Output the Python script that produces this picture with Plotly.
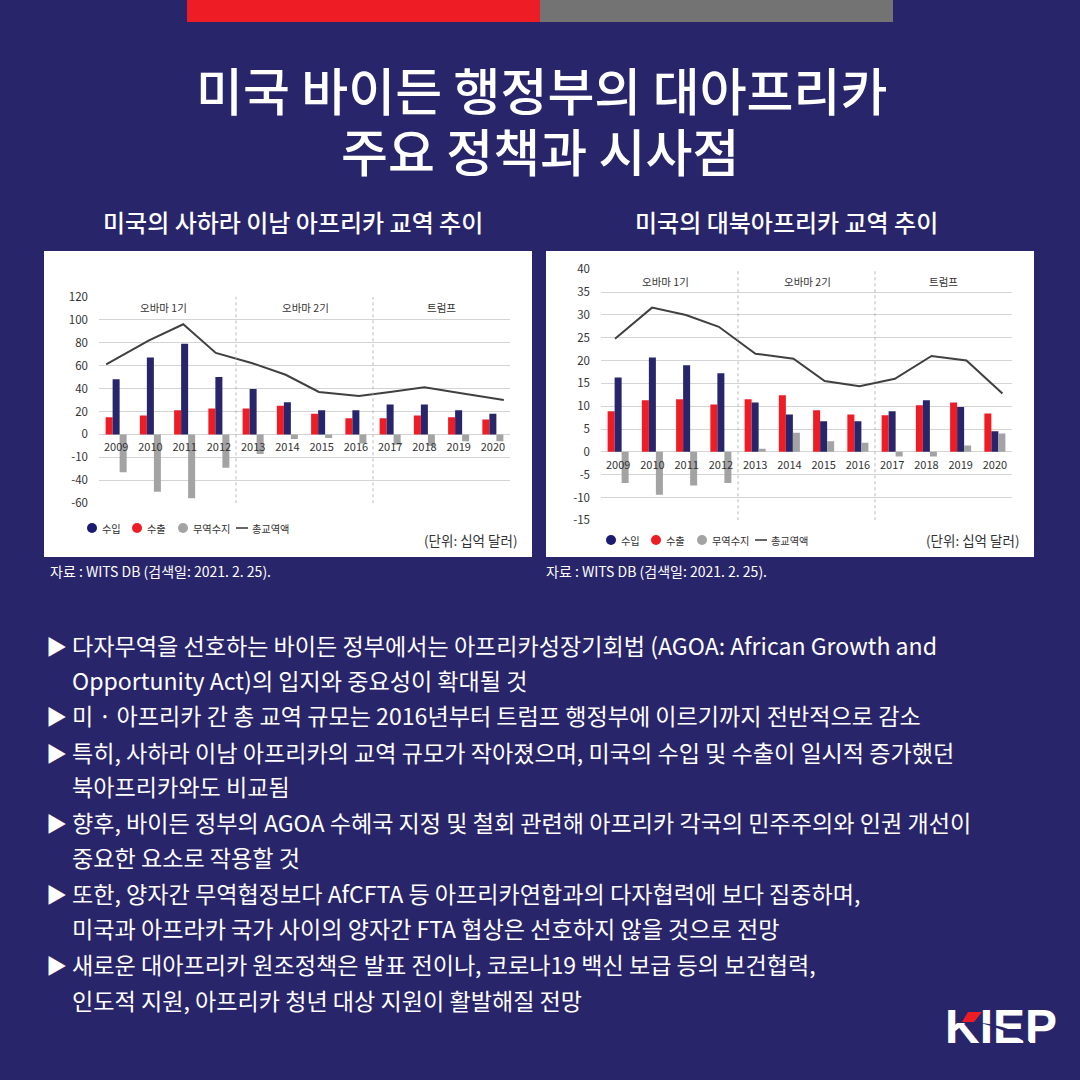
"""
KIEP card: US trade with Sub-Saharan and North Africa, 2009-2020.
"""

import plotly.graph_objects as go


# ============================================================
# 1. Data
# ============================================================

years = [2009, 2010, 2011, 2012, 2013, 2014, 2015, 2016, 2017, 2018, 2019, 2020]

# Sub-Saharan Africa
ssa_import = [48, 67, 79, 50, 39.5, 28, 21, 21, 26, 26, 21, 18]
ssa_export = [15, 16.5, 21, 22.5, 22.5, 25, 18, 14, 14, 16.5, 15, 13]
ssa_balance = [-33, -50, -55.5, -29, -17, -4, -3, -8, -9, -10, -6, -6]
ssa_total = [61, 82, 96, 71, 62, 52, 37, 33.5, 37, 41, 36, 30]
# the line sits a little off the group centres in the original
ssa_total_x = [2008.71, 2009.96, 2010.96, 2011.91, 2012.98, 2013.95,
               2014.92, 2016.09, 2017.0, 2018.0, 2019.03, 2020.32]
ssa_ticks = [120, 100, 80, 60, 40, 20, 0, -20, -40, -60]
ssa_ticktext = ["120", "100", "80", "60", "40", "20", "0", "-10", "-40", "-60"]

# North Africa
na_import = [16.3, 20.7, 19, 17.2, 10.8, 8.2, 6.7, 6.7, 8.9, 11.3, 9.8, 4.5]
na_export = [8.9, 11.3, 11.5, 10.4, 11.5, 12.4, 9.1, 8.2, 8, 10.2, 10.8, 8.4]
na_balance = [-6.8, -9.4, -7.4, -6.8, 0.7, 4.2, 2.3, 2, -1, -1, 1.4, 4]
na_total = [24.8, 31.6, 30, 27.4, 21.5, 20.4, 15.5, 14.4, 16, 21, 20, 12.8]
na_total_x = [2008.91, 2009.99, 2010.98, 2011.94, 2013.01, 2014.12,
              2015.03, 2016.05, 2017.08, 2018.15, 2019.17, 2020.22]
na_ticks = [40, 35, 30, 25, 20, 15, 10, 5, 0, -5, -10, -15]
na_ticktext = ["40", "35", "30", "25", "20", "15", "10", "5", "0", "-5", "-10", "-15"]

period_names = ["오바마 1기", "오바마 2기", "트럼프"]
period_x = [2010.38, 2014.54, 2018.5]
period_breaks = [2012.5, 2016.5]

legend_names = ["수입", "수출", "무역수지", "총교역액"]

title_lines = ["미국 바이든 행정부의 대아프리카", "주요 정책과 시사점"]
chart_titles = ["미국의 사하라 이남 아프리카 교역 추이", "미국의 대북아프리카 교역 추이"]
unit_text = "(단위: 십억 달러)"
source_text = "자료 : WITS DB (검색일: 2021. 2. 25)."

body_lines = [
    "다자무역을 선호하는 바이든 정부에서는 아프리카성장기회법 (AGOA: African Growth and",
    "Opportunity Act)의 입지와 중요성이 확대될 것",
    "미 · 아프리카 간 총 교역 규모는 2016년부터 트럼프 행정부에 이르기까지 전반적으로 감소",
    "특히, 사하라 이남 아프리카의 교역 규모가 작아졌으며, 미국의 수입 및 수출이 일시적 증가했던",
    "북아프리카와도 비교됨",
    "향후, 바이든 정부의 AGOA 수혜국 지정 및 철회 관련해 아프리카 각국의 민주주의와 인권 개선이",
    "중요한 요소로 작용할 것",
    "또한, 양자간 무역협정보다 AfCFTA 등 아프리카연합과의 다자협력에 보다 집중하며,",
    "미국과 아프라카 국가 사이의 양자간 FTA 협상은 선호하지 않을 것으로 전망",
    "새로운 대아프리카 원조정책은 발표 전이나, 코로나19 백신 보급 등의 보건협력,",
    "인도적 지원, 아프리카 청년 대상 지원이 활발해질 전망",
]
body_y = [645, 680, 715, 752, 786, 822, 857, 893, 928, 964, 1000]
bullet_rows = [0, 2, 3, 5, 7, 9]


# ============================================================
# 2. Style
# ============================================================

FONT = "Noto Sans CJK KR"
BG = "#29256b"
RED = "#ee1c25"
NAVY = "#29256b"
GRAY = "#a3a3a3"
LINE = "#404040"
GRID = "#d4d4d4"
TEXT = "#333333"


def fx(x):
    return x / 1080


def fy(y):
    return 1 - y / 1080


def add_text(text, x, y, size, color="white", xanchor="center", weight=400):
    annotations.append(dict(
        text=text, x=fx(x), y=fy(y), xref="paper", yref="paper",
        xanchor=xanchor, yanchor="middle", showarrow=False,
        font=dict(family=FONT, size=size, color=color, weight=weight),
    ))


def add_rect(x0, y0, x1, y1, color):
    shapes.append(dict(
        type="rect", xref="paper", yref="paper", layer="below",
        x0=fx(x0), y0=fy(y0), x1=fx(x1), y1=fy(y1),
        fillcolor=color, line_width=0,
    ))


def add_poly(path, color):
    shapes.append(dict(
        type="path", xref="paper", yref="paper", layer="above",
        path=path, fillcolor=color, line_width=0,
    ))


fig = go.Figure()
shapes = []
annotations = []


# ============================================================
# 3. Charts
# ============================================================

def add_chart(n, imports, exports, balance, total, total_x, ticks, ticktext,
              y_range, box, label_value, legend_x, legend_y):
    xname = "x" if n == 1 else f"x{n}"
    yname = "y" if n == 1 else f"y{n}"
    left, top, right, bottom = box

    for values, color in [(exports, RED), (imports, NAVY), (balance, GRAY)]:
        fig.add_trace(go.Bar(
            x=years, y=values, marker_color=color, marker_line_width=0,
            xaxis=xname, yaxis=yname, showlegend=False,
        ))
    fig.add_trace(go.Scatter(
        x=total_x, y=total, mode="lines", line=dict(color=LINE, width=2),
        xaxis=xname, yaxis=yname, showlegend=False,
    ))

    ydomain = [fy(bottom), fy(top)]
    zero = ydomain[0] + (0 - y_range[0]) / (y_range[1] - y_range[0]) * (ydomain[1] - ydomain[0])
    fig.update_layout({
        f"xaxis{'' if n == 1 else n}": dict(
            domain=[fx(left), fx(right)], range=[2008.5, 2020.5],
            anchor="free", position=zero, tickmode="array",
            tickvals=years, ticktext=[str(v) for v in years], ticks="",
            showgrid=False, zeroline=False, showline=False,
            ticklabelstandoff=5,
            tickfont=dict(family=FONT, size=11, color=TEXT),
        ),
        f"yaxis{'' if n == 1 else n}": dict(
            domain=ydomain, range=y_range, anchor=xname, tickmode="array",
            tickvals=ticks, ticktext=ticktext, ticks="", showgrid=True,
            gridcolor=GRID, gridwidth=1, zeroline=True, zerolinecolor=GRID,
            zerolinewidth=1, showline=False, ticklabelstandoff=10,
            tickfont=dict(family=FONT, size=11.5, color=TEXT),
        ),
    })

    for x in period_breaks:
        shapes.append(dict(
            type="line", xref=xname, yref=yname, x0=x, x1=x,
            y0=y_range[0], y1=y_range[1],
            line=dict(color="#a8a8a8", width=0.8, dash="dot"),
        ))
    for name, x in zip(period_names, period_x):
        annotations.append(dict(
            text=name, x=x, y=label_value, xref=xname, yref=yname,
            showarrow=False, font=dict(family=FONT, size=10.5, color=TEXT),
        ))

    # legend keys are closer to their labels than plotly's legend allows
    key_colors = ["#1b1b6f", RED, GRAY]
    for i, name in enumerate(legend_names):
        x = legend_x[i]
        if i < 3:
            shapes.append(dict(
                type="circle", xref="paper", yref="paper",
                x0=fx(x - 5), x1=fx(x + 5), y0=fy(legend_y + 5), y1=fy(legend_y - 5),
                fillcolor=key_colors[i], line_width=0,
            ))
        else:
            shapes.append(dict(
                type="line", xref="paper", yref="paper",
                x0=fx(x - 6), x1=fx(x + 6), y0=fy(legend_y), y1=fy(legend_y),
                line=dict(color="#333333", width=1.5),
            ))
        add_text(name, x + 8, legend_y, 10.2, color=TEXT, xanchor="left")


add_rect(187, 0, 540, 22, RED)
add_rect(540, 0, 893, 22, "#737373")
add_rect(44, 251, 532, 557, "white")
add_rect(546, 251, 1034, 557, "white")

add_chart(1, ssa_import, ssa_export, ssa_balance, ssa_total, ssa_total_x,
          ssa_ticks, ssa_ticktext, [-60, 120], (99, 296.7, 510, 503.3), 110.5,
          [92, 137, 183, 242], 528)
add_chart(2, na_import, na_export, na_balance, na_total, na_total_x,
          na_ticks, na_ticktext, [-15, 40], (601, 269.3, 1012, 520.3), 37.3,
          [611, 656, 702, 761], 540)


# ============================================================
# 4. Text
# ============================================================

add_text(title_lines[0], 541, 89, 51, weight=500)
add_text(title_lines[1], 540, 150, 51, weight=500)
add_text(chart_titles[0], 293, 222, 24, weight=500)
add_text(chart_titles[1], 786, 222, 24, weight=500)

add_text(unit_text, 519, 540, 13.5, color=TEXT, xanchor="right")
add_text(unit_text, 1021, 540, 13.5, color=TEXT, xanchor="right")
add_text(source_text, 48, 571, 14, xanchor="left")
add_text(source_text, 544, 571, 14, xanchor="left")

for i, line in enumerate(body_lines):
    add_text(line, 70, body_y[i], 23.1, xanchor="left")
for i in bullet_rows:
    add_text("▶", 44, body_y[i], 21, xanchor="left")


# ============================================================
# 5. Logo
# ============================================================

# text trace rather than annotation, so the shapes can sit on top of it
fig.add_trace(go.Scatter(
    x=[1001], y=[1031], mode="text", text=["KIEP"], textposition="middle center",
    textfont=dict(family="Liberation Sans", size=48, color="white", weight="bold"),
    xaxis="x3", yaxis="y3", showlegend=False, hoverinfo="skip",
))
fig.update_layout(
    xaxis3=dict(domain=[0, 1], range=[0, 1080], visible=False, anchor="y3"),
    yaxis3=dict(domain=[0, 1], range=[1080, 0], visible=False, anchor="x3"),
)

add_poly(f"M {fx(957)} {fy(1008)} L {fx(980)} {fy(1008)} L {fx(980)} {fy(1023)} L {fx(957)} {fy(1023)} Z", BG)
add_poly(f"M {fx(968)} {fy(1012)} L {fx(982)} {fy(1012)} L {fx(974)} {fy(1022)} L {fx(962)} {fy(1022)} Z", RED)
add_poly(
    f"M {fx(979)} {fy(1022.5)} Q {fx(1026)} {fy(1028)} {fx(1037)} {fy(1053)} "
    f"Q {fx(1022)} {fy(1034)} {fx(979)} {fy(1022.5)} Z",
    BG,
)

fig.update_layout(
    width=1080,
    height=1080,
    autosize=False,
    margin=dict(l=0, r=0, t=0, b=0, autoexpand=False),
    paper_bgcolor=BG,
    plot_bgcolor="rgba(0,0,0,0)",
    barmode="group",
    bargap=0.386,
    bargroupgap=0,
    showlegend=False,
    shapes=shapes,
    annotations=annotations,
)

fig.write_html(
    "out.html",
    config=dict(displayModeBar=False),
    post_script="document.body.style.margin='0';",
)
